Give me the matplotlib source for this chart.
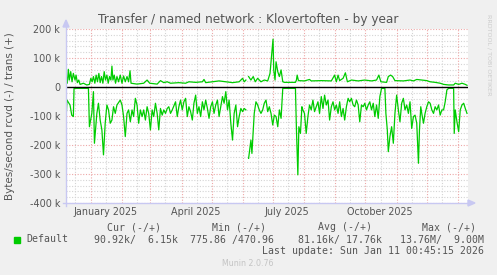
import matplotlib
matplotlib.use('Agg')
import matplotlib.pyplot as plt
import matplotlib.patches as mpatches
import numpy as np
import pandas as pd

# ---------------- data ----------------
start = pd.Timestamp('2024-12-07')
end = pd.Timestamp('2026-01-11')

rcvd_days = [0, 1, 2, 4, 5.7, 7.3, 8, 22.3, 23.3, 25.7, 27.3, 28.3, 30.7, 32.3, 34, 35.7, 37.3, 39,
             40.7, 42.3, 44, 45.7, 47.3, 49, 50.7, 54, 55.7, 57.3, 59, 60.7, 62.3, 64, 65.7, 67.3, 69,
             70.7, 72.3, 74, 75.7, 77.3, 79, 80.7, 82.3, 84, 85.7, 87.3, 89, 90.7, 92.3, 94, 95.7, 97.3,
             99, 100.7, 102.3, 104, 105.7, 109, 110.7, 112.3, 114, 115.7, 117.3, 119, 120.7, 122.3, 124,
             125.7, 127.3, 129, 130.7, 132.3, 134, 135.7, 137.3, 139, 140.7, 142.3, 144, 145.7, 147.3,
             149, 150.7, 152.3, 154, 155.7, 157.3, 159, 160.7, 162.3, 164, 165.7, 167.3, 169, 170.7,
             172.3, 174, 175.7, 177.3, 179, 180, 181.7, 184, 185, 186.3, 187.3, 189, 190.7, 192.3, 194,
             195.7, 197.3, 199, 200.7, 202.3, 204, 205.7, 207.3, 209, 210.7, 212.3, 214, 215.7, 228.3,
             229.3, 230.7, 231.7, 233.3, 234.7, 235.7, 237.3, 239, 240.7, 242.3, 244, 245.7, 247.3, 249,
             250.7, 252.3, 254, 255.7, 257.3, 259, 260.7, 262.3, 264, 265.7, 267.3, 269, 270.7, 272.3,
             274, 275.7, 277.3, 279, 280.7, 282.3, 284, 285.7, 287.3, 289, 290.7, 292.3, 294, 295.7,
             297.3, 299, 300.7, 302.3, 304, 305.7, 307.3, 309, 310.7, 312.3, 314, 317.3, 318.3, 319.7,
             320.7, 322.3, 324, 325.7, 327.3, 329, 330.7, 332.3, 334, 335.7, 337.3, 339, 340.7, 342.3,
             344, 345.7, 347.3, 349, 350.7, 351.7, 353, 354, 355.7, 357.3, 359, 360.7, 362.3, 364, 365.7,
             367.3, 369, 370.7, 372.3, 374, 375.7, 377.3, 379, 380.7, 385.7, 386.3, 387.3, 389, 390.7,
             392.3, 394, 395.7, 397.3, 399]
rcvd_k = [114, 45, 51, 62, 97, 102, 4.6, 4.6, 137, 91, 16, 194, 91, 56, 114, 148, 234, 125,
          62, 79, 125, 114, 68, 91, 62, 45, 62, 102, 171, 91, 79, 120, 79, 102, 39,
          62, 125, 79, 102, 79, 114, 68, 91, 148, 79, 102, 56, 91, 148, 74, 97, 79,
          91, 74, 68, 91, 79, 51, 102, 68, 45, 79, 51, 39, 102, 68, 85,
          114, 56, 28, 91, 68, 102, 51, 79, 45, 74, 108, 68, 51, 91,
          62, 45, 102, 68, 33, 56, 16, 79, 45, 125, 183, 91, 62, 137,
          102, 74, 85, 74, 79, np.nan, 246, 183, 229, 148, 91, 51, 62, 79, 91,
          79, 56, 45, 85, 68, 91, 131, 97, 102, 137, 79, 108, 4.6, 4.6,
          148, 303, 137, 160, 68, 79, 91, 160, 102, 62, 79, 45, 85, 68,
          51, 91, 33, 74, 28, 62, 45, 114, 68, 51, 79, 62, 91, 51,
          102, 74, 114, 68, 39, 51, 39, 62, 68, 45, 62, 120, 62, 68,
          56, 79, 62, 51, 79, 56, 102, 62, 108, 33, 4.6, 4.6, 91, 148,
          223, 171, 137, 194, 91, 28, 79, 120, 56, 39, 79, 62, 91, 51,
          143, 102, 97, 125, 263, 148, 68, 91, 125, 91, 68, 51, 56, 79, 91,
          68, 79, 62, 97, 79, 79, 51, 10, 4.6, 4.6, 160, 79, 120, 154,
          79, 62, 56, 74, 91]

trans_days = [0, 1.3, 2.3, 3.3, 4.7, 6, 7.3, 9, 10, 11.3, 12.7, 14, 17.3, 20.7, 23.3, 24.7, 26,
              27.3, 28.7, 30, 31.3, 32.7, 34, 35.3, 36.7, 38, 39.3, 40.7, 42, 43.3, 44.7, 45.7,
              46.7, 48, 49.3, 50.7, 52.3, 54, 55.7, 57.3, 59, 60.7, 62.3, 63.7, 64.7, 70.7, 77.3,
              80.7, 83.3, 90.7, 94, 97.3, 100.7, 104, 112.3, 119, 122.3, 129, 135.7, 137.3, 139,
              145.7, 152.3, 159, 165.7, 172.3, 175.7, 177.3, 179, 180, 181.7, 184, 186.3, 188.3,
              190.7, 194, 197.3, 200.7, 203, 205, 206, 206.7, 208, 209, 210.7, 212.3, 214, 215.7,
              217.3, 228.3, 229.3, 230, 231.3, 237.3, 242.3, 244, 254, 264, 267.3, 269, 270.7,
              272.3, 275.7, 278, 280, 284, 290.7, 297.3, 304, 309, 311.3, 313.3, 319, 320.7, 323,
              325, 327.3, 335.7, 342.3, 345.7, 349, 354, 359, 362.3, 367.3, 372.3, 375.7, 380.7,
              385.7, 387.3, 390.7, 394, 397.3, 399]
trans_k = [47, 13, 61, 24, 53, 18, 47, 24, 41, 15, 24, 9, 13, 7, 9, 30, 18,
           36, 13, 41, 18, 47, 15, 36, 13, 53, 24, 41, 13, 36, 24, 72,
           24, 41, 13, 36, 18, 41, 13, 38, 18, 36, 18, 56, 13, 10, 13,
           24, 13, 10, 22, 15, 18, 13, 15, 13, 18, 16, 18, 26, 15,
           18, 21, 18, 15, 18, 30, 18, 24, np.nan, 36, 24, 36, 18,
           30, 18, 24, 21, 47, 128, 165, 59, 24, 87, 53, 36, 59, 18,
           16, 16, 24, 41, 22, 21, 26, 21, 22, 21, 41, 18, 41,
           22, 30, 49, 18, 24, 21, 24, 21, 24, 41, 18, 16, 36, 41,
           36, 22, 21, 24, 21, 26, 24, 22, 18, 16, 13, 9, 7,
           7, 13, 9, 13, 9, 6]

ytick_values = [-400000, -300000, -200000, -100000, 0, 100000, 200000]
ytick_labels = ['-400 k', '-300 k', '-200 k', '-100 k', '0', '100 k', '200 k']
xlabel_dates = ['2025-01-15', '2025-04-15', '2025-07-15', '2025-10-15']
xlabel_texts = ['January 2025', 'April 2025', 'July 2025', 'October 2025']

title = 'Transfer / named network : Klovertoften - by year'
ylabel = 'Bytes/second rcvd (-) / trans (+)'
legend_header = ['Cur (-/+)', 'Min (-/+)', 'Avg (-/+)', 'Max (-/+)']
legend_name = 'Default'
legend_values = '90.92k/  6.15k  775.86 /470.96    81.16k/ 17.76k   13.76M/  9.00M'
last_update = 'Last update: Sun Jan 11 00:45:15 2026'

# ---------------- figure ----------------
W, H = 497, 275
BG = '#F0F0F0'
GREEN = '#00CC00'
TXT = '#555555'
AXC = '#C8C8F2'

fig = plt.figure(figsize=(W / 100, H / 100), dpi=100, facecolor=BG)
ax = fig.add_axes([66 / W, 1 - 203 / H, 402 / W, 174 / H])
ax.set_facecolor('white')


def fx(x):
    return x / W


def fy(y):
    return 1 - y / H


rd = start + pd.to_timedelta(rcvd_days, unit='D')
td = start + pd.to_timedelta(trans_days, unit='D')
rcvd = -np.array(rcvd_k, dtype=float) * 1000
trans = np.array(trans_k, dtype=float) * 1000

# grid
months = pd.date_range('2024-12-01', '2026-01-31', freq='MS')
for m in months:
    mid = m + pd.Timedelta(days=15)
    if start <= mid <= end:
        ax.axvline(mid, color='#D4D4D4', lw=0.8, ls=(0, (1, 1.5)), zorder=1)
    if start <= m <= end:
        ax.axvline(m, color='#EDA8A8', lw=0.8, ls=(0, (1, 1.5)), zorder=2)
for v in np.arange(-400000, 200001, 20000):
    if v % 100000 == 0:
        ax.axhline(v, color='#EDA8A8', lw=0.8, ls=(0, (1, 1.5)), zorder=2)
    else:
        ax.axhline(v, color='#D4D4D4', lw=0.8, ls=(0, (1, 1.5)), zorder=1)

ax.plot(rd, rcvd, color=GREEN, lw=0.9, zorder=4)
ax.plot(td, trans, color=GREEN, lw=0.9, zorder=4)
ax.axhline(0, color='black', lw=1.0, zorder=5)

ax.set_xlim(start, end)
ax.set_ylim(-400000, 200000)
for s in ax.spines.values():
    s.set_visible(False)

ax.set_yticks(ytick_values)
ax.set_yticklabels(ytick_labels)
ax.set_xticks(pd.to_datetime(xlabel_dates))
ax.set_xticklabels(xlabel_texts)
ax.tick_params(axis='both', length=0, labelsize=6.9, labelcolor=TXT)
ax.tick_params(axis='y', pad=4.3)
ax.tick_params(axis='x', pad=3.0)

# axis lines with arrows (figure pixel coords)
fig.add_artist(plt.Line2D([fx(66), fx(66)], [fy(206), fy(24)], color=AXC, lw=1.0))
fig.add_artist(plt.Line2D([fx(63), fx(470)], [fy(203), fy(203)], color=AXC, lw=1.0))
fig.add_artist(mpatches.Polygon([(fx(63), fy(27)), (fx(69), fy(27)), (fx(66), fy(20))],
                                closed=True, color=AXC, transform=fig.transFigure))
fig.add_artist(mpatches.Polygon([(fx(468), fy(200)), (fx(468), fy(206)), (fx(475), fy(203))],
                                closed=True, color=AXC, transform=fig.transFigure))

# texts
fig.text(fx(248.5), fy(19), title, ha='center', va='center', fontsize=8.7, color=TXT)
fig.text(fx(10), fy(116), ylabel, ha='center', va='center', rotation=90, fontsize=7.5, color=TXT)
fig.text(fx(489), fy(55), 'RRDTOOL / TOBI OETIKER', ha='center', va='center', rotation=270,
         fontsize=4.6, color='#CCCCCC')

mono = 'DejaVu Sans Mono'
hdr_x = [107, 212.5, 318, 422.5]
for hx, ht in zip(hdr_x, legend_header):
    fig.text(fx(hx), fy(227.5), ht, ha='left', va='center', fontsize=7.1, family=mono, color=TXT)
fig.add_artist(mpatches.Rectangle((fx(14), fy(243)), 6 / W, 6 / H, color=GREEN,
                                  transform=fig.transFigure))
fig.text(fx(26), fy(239.5), legend_name, ha='left', va='center', fontsize=7.1, family=mono, color=TXT)
fig.text(fx(483.5), fy(239.5), legend_values, ha='right', va='center', fontsize=7.1, family=mono,
         color=TXT)
fig.text(fx(483.5), fy(251.5), last_update, ha='right', va='center', fontsize=7.1, family=mono,
         color=TXT)
fig.text(fx(248), fy(264), 'Munin 2.0.76', ha='center', va='center', fontsize=5.7, color='#C4C4C4')

fig.savefig('out.png', dpi=100, facecolor=BG)
